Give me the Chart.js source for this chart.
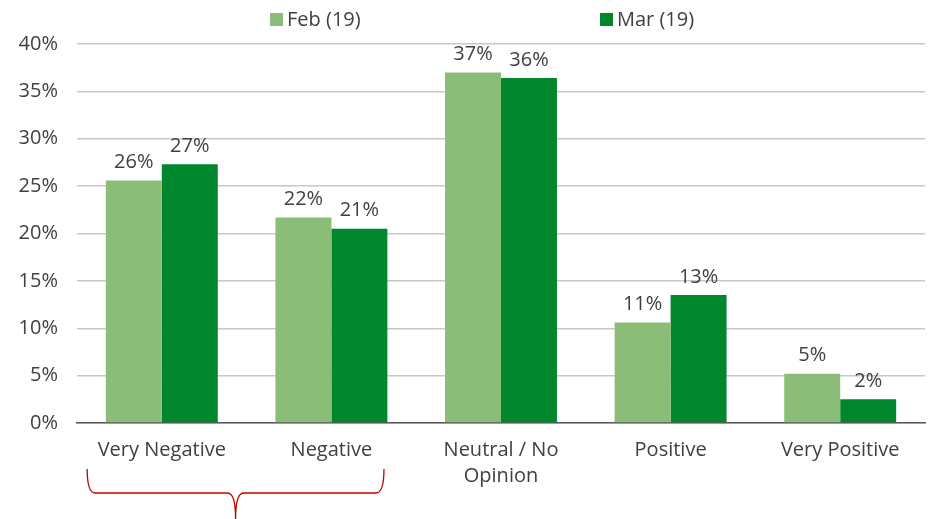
<!DOCTYPE html>
<html><head><meta charset="utf-8">
<script src="https://cdn.jsdelivr.net/npm/chart.js@4/dist/chart.umd.min.js"></script>
<style>html,body{margin:0;padding:0;background:#fff}#wrap{width:930px;height:519px}</style>
</head><body><div id="wrap"><canvas id="c" width="930" height="519"></canvas></div>
<script>
const categories = ['Very Negative', 'Negative', ['Neutral / No', 'Opinion'], 'Positive', 'Very Positive'];
const seriesNames = ['Feb (19)', 'Mar (19)'];
const febValues = [25.6, 21.7, 37.0, 10.6, 5.2];
const marValues = [27.3, 20.5, 36.4, 13.5, 2.5];
const febLabels = ['26%', '22%', '37%', '11%', '5%'];
const marLabels = ['27%', '21%', '36%', '13%', '2%'];
const yTicks = [0, 5, 10, 15, 20, 25, 30, 35, 40];

const FONT = '"Open Sans", Lato, sans-serif';
const FS = 20;
const TXT = '#404040';
const colors = ['#8BBD78', '#00872D'];

const valueLabels = {
  id: 'valueLabels',
  afterDatasetsDraw(chart) {
    const ctx = chart.ctx;
    const lbls = [febLabels, marLabels];
    ctx.save();
    ctx.font = FS + 'px ' + FONT;
    ctx.fillStyle = TXT;
    ctx.textAlign = 'center';
    ctx.textBaseline = 'middle';
    chart.data.datasets.forEach((ds, i) => {
      chart.getDatasetMeta(i).data.forEach((bar, j) => {
        ctx.fillText(lbls[i][j], bar.x, bar.y - 18);
      });
    });
    ctx.restore();
  }
};

const customLegend = {
  id: 'customLegend',
  afterDraw(chart) {
    const ctx = chart.ctx;
    ctx.save();
    ctx.font = FS + 'px ' + FONT;
    ctx.textBaseline = 'middle';
    ctx.textAlign = 'left';
    const starts = [270, 600];
    chart.data.datasets.forEach((ds, i) => {
      ctx.fillStyle = ds.backgroundColor;
      ctx.fillRect(starts[i], 13, 13, 13);
      ctx.fillStyle = TXT;
      ctx.fillText(ds.label, starts[i] + 17, 20);
    });
    ctx.restore();
  }
};

const bracket = {
  id: 'bracket',
  afterDraw(chart) {
    const x = chart.scales.x;
    const cw = (x.right - x.left) / categories.length;
    const l = x.getPixelForValue(0) - 0.44 * cw;
    const r = x.getPixelForValue(1) + 0.31 * cw;
    const m = (l + r) / 2;
    const top = 469, mid = 493, bot = 519;
    const ctx = chart.ctx;
    ctx.save();
    ctx.strokeStyle = '#C00000';
    ctx.lineWidth = 1.3;
    ctx.beginPath();
    ctx.moveTo(l, top);
    ctx.quadraticCurveTo(l, mid, l + 8, mid);
    ctx.lineTo(m - 8, mid);
    ctx.quadraticCurveTo(m, mid, m, bot);
    ctx.quadraticCurveTo(m, mid, m + 8, mid);
    ctx.lineTo(r - 8, mid);
    ctx.quadraticCurveTo(r, mid, r, top);
    ctx.stroke();
    ctx.restore();
  }
};

new Chart(document.getElementById('c'), {
  type: 'bar',
  data: {
    labels: categories,
    datasets: [
      { label: seriesNames[0], data: febValues, backgroundColor: colors[0] },
      { label: seriesNames[1], data: marValues, backgroundColor: colors[1] }
    ]
  },
  options: {
    responsive: false,
    animation: false,
    devicePixelRatio: 1,
    layout: { padding: { top: 44, right: 5, left: 0, bottom: 0 } },
    plugins: { legend: { display: false }, tooltip: { enabled: false } },
    datasets: { bar: { categoryPercentage: 0.66, barPercentage: 1.0 } },
    scales: {
      x: {
        grid: { display: false, drawTicks: false },
        border: { display: true, color: '#595959', width: 1.5 },
        ticks: { color: TXT, font: { size: FS, family: FONT, lineHeight: 1.3 }, padding: 14, maxRotation: 0, autoSkip: false },
        afterFit(s) { s.height = 96; }
      },
      y: {
        min: 0, max: 40,
        afterBuildTicks(s) { s.ticks = yTicks.map(v => ({ value: v })); },
        grid: { color: '#C8C8C8', lineWidth: 1.5, drawTicks: false },
        border: { display: false },
        ticks: { color: TXT, font: { size: FS, family: FONT }, padding: 19, callback: v => v + '%' },
        afterFit(s) { s.width = 77; }
      }
    }
  },
  plugins: [valueLabels, customLegend, bracket]
});
</script>
</body></html>
